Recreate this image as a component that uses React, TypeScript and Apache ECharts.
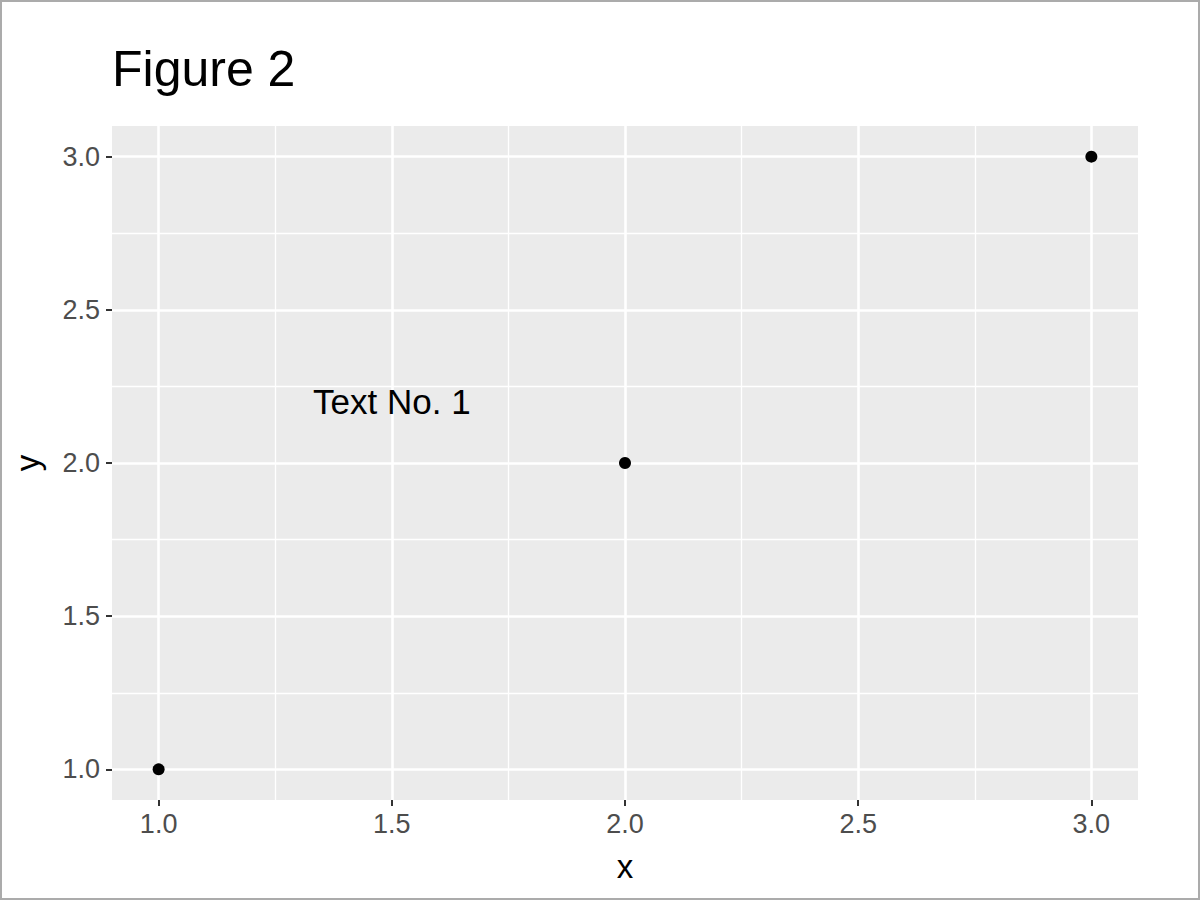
import React, { useEffect, useRef } from "react";
import * as echarts from "echarts";

const pointsX = [1, 2, 3];
const pointsY = [1, 2, 3];
const majorBreaks = [1.0, 1.5, 2.0, 2.5, 3.0];
const minorBreaks = [1.25, 1.75, 2.25, 2.75];
const annotationX = [1.5];
const annotationY = [2.2];
const annotationText = ["Text No. 1"];
const titleText = "Figure 2";
const xTitle = "x";
const yTitle = "y";

const FONT = "'Liberation Sans', Arial, sans-serif";

export default function App() {
  const ref = useRef<HTMLDivElement>(null);
  useEffect(() => {
    if (!ref.current) return;
    const chart = echarts.init(ref.current, undefined, { renderer: "svg" });
    const gridLines: any[] = [];
    majorBreaks.forEach((v) => {
      gridLines.push({ xAxis: v, lineStyle: { color: "#FFFFFF", width: 2.6, type: "solid" } });
      gridLines.push({ yAxis: v, lineStyle: { color: "#FFFFFF", width: 2.6, type: "solid" } });
    });
    minorBreaks.forEach((v) => {
      gridLines.push({ xAxis: v, lineStyle: { color: "#FFFFFF", width: 1.3, type: "solid" } });
      gridLines.push({ yAxis: v, lineStyle: { color: "#FFFFFF", width: 1.3, type: "solid" } });
    });
    const axisCommon = {
      type: "value",
      min: 0.9,
      max: 3.1,
      axisLine: { show: false },
      splitLine: { show: false },
      axisTick: {
        show: true,
        customValues: majorBreaks,
        length: 6,
        lineStyle: { color: "#333333", width: 2 },
      },
      axisLabel: {
        customValues: majorBreaks,
        formatter: (v: number) => v.toFixed(1),
        color: "#4D4D4D",
        fontSize: 27,
        fontFamily: FONT,
      },
      nameLocation: "middle",
      nameTextStyle: { color: "#000000", fontSize: 33, fontFamily: FONT },
    };
    chart.setOption({
      animation: false,
      backgroundColor: "#FFFFFF",
      title: {
        text: titleText,
        left: 112,
        top: 44,
        padding: 0,
        textStyle: { fontSize: 50, fontWeight: "normal", color: "#000000", fontFamily: FONT },
      },
      graphic: [
        {
          type: "rect",
          shape: { x: 1, y: 1, width: 1198, height: 898 },
          style: { fill: "none", stroke: "#ABABAB", lineWidth: 2 },
          silent: true,
        },
      ],
      grid: {
        left: 112,
        right: 62,
        top: 126,
        bottom: 100,
        show: true,
        backgroundColor: "#EBEBEB",
        borderWidth: 0,
      },
      xAxis: {
        ...axisCommon,
        name: xTitle,
        nameGap: 50,
        axisLabel: { ...axisCommon.axisLabel, margin: 10 },
      },
      yAxis: {
        ...axisCommon,
        name: yTitle,
        nameGap: 68,
        axisLabel: { ...axisCommon.axisLabel, margin: 12 },
      },
      series: [
        {
          type: "line",
          data: [],
          z: 1,
          silent: true,
          markLine: {
            silent: true,
            symbol: ["none", "none"],
            label: { show: false },
            data: gridLines,
          },
        },
        {
          type: "scatter",
          z: 5,
          data: pointsX.map((x, i) => [x, pointsY[i]]),
          symbol: "circle",
          symbolSize: 12,
          itemStyle: { color: "#000000", opacity: 1 },
        },
        {
          type: "scatter",
          z: 6,
          data: annotationX.map((x, i) => [x, annotationY[i]]),
          symbolSize: 0,
          itemStyle: { color: "#000000", opacity: 1 },
          label: {
            show: true,
            position: "inside",
            formatter: (p: any) => annotationText[p.dataIndex],
            color: "#000000",
            opacity: 1,
            fontSize: 35,
            fontFamily: FONT,
          },
        },
      ],
    });
    return () => chart.dispose();
  }, []);
  return (
    <div
      ref={ref}
      style={{ position: "absolute", left: 0, top: 0, width: 1200, height: 900 }}
    />
  );
}
